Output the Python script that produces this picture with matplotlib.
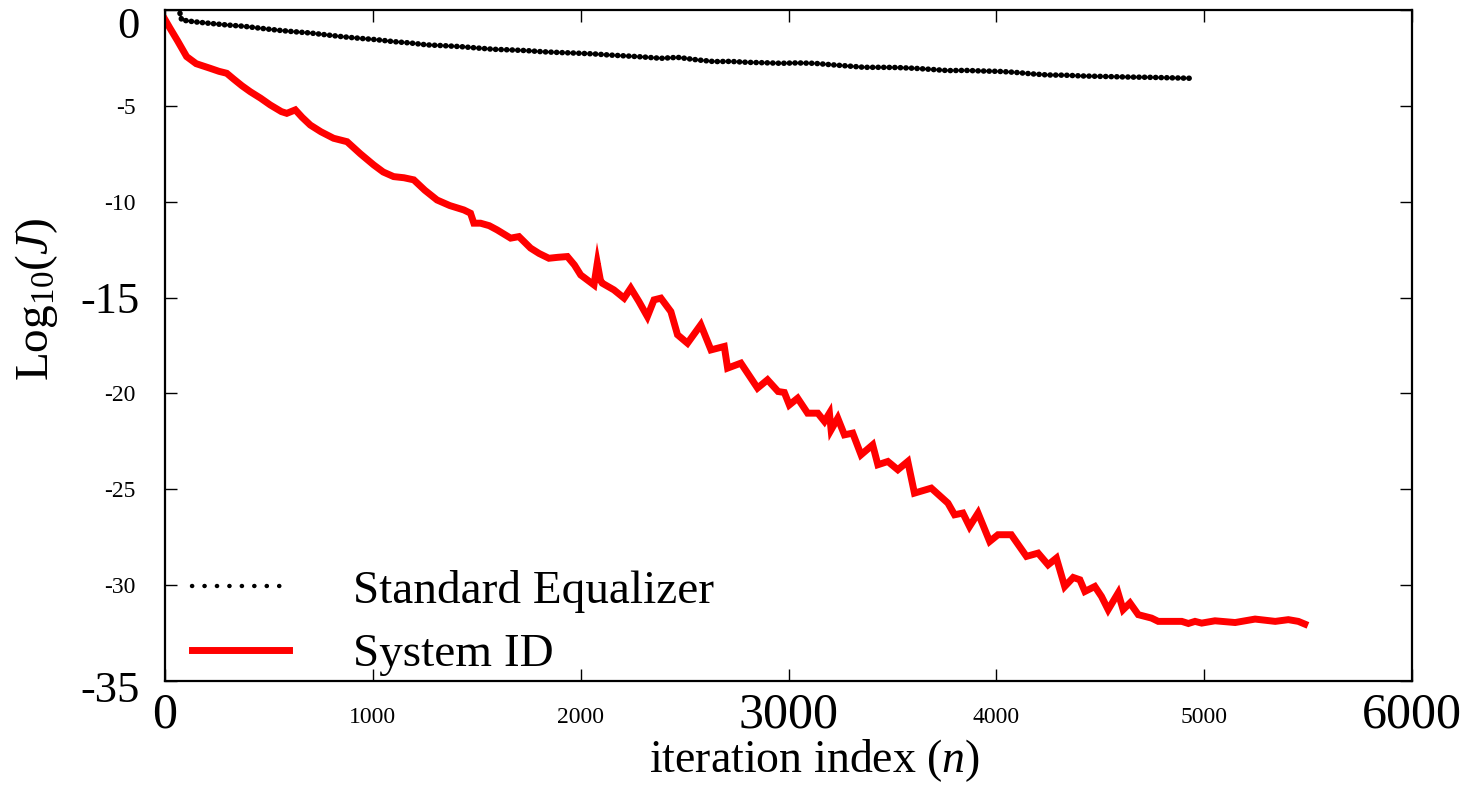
import matplotlib
matplotlib.use("Agg")
import matplotlib.pyplot as plt
import matplotlib.transforms as mtransforms
from matplotlib.lines import Line2D

plt.rcParams['font.family'] = ['Liberation Serif', 'DejaVu Serif']
plt.rcParams['mathtext.fontset'] = 'custom'
plt.rcParams['mathtext.rm'] = 'Liberation Serif'
plt.rcParams['mathtext.it'] = 'Liberation Serif:italic'

# Learning curves: log10 of the cost J versus iteration index n
equalizer_n = [72, 80, 137, 200, 297, 380, 458, 540, 618, 700, 779, 860, 940, 1020,
               1100, 1180, 1261, 1340, 1422, 1500, 1582, 1660, 1743, 1820, 1904, 1980,
               2064, 2140, 2225, 2300, 2386, 2466, 2560, 2642, 2720, 2803, 2880, 2964,
               3040, 3124, 3200, 3285, 3365, 3446, 3520, 3606, 3690, 3767, 3850, 3928,
               4010, 4088, 4170, 4249, 4330, 4410, 4490, 4570, 4650, 4731, 4810, 4930]
equalizer_logJ = [-0.17, -0.52, -0.61, -0.68, -0.78, -0.85, -0.95, -1.05, -1.13, -1.20,
                  -1.30, -1.40, -1.48, -1.55, -1.65, -1.72, -1.82, -1.86, -1.91, -1.98,
                  -2.05, -2.08, -2.12, -2.18, -2.22, -2.25, -2.29, -2.35, -2.40, -2.45,
                  -2.52, -2.47, -2.60, -2.69, -2.68, -2.73, -2.75, -2.78, -2.76, -2.78,
                  -2.85, -2.92, -2.99, -2.99, -3.00, -3.04, -3.10, -3.16, -3.15, -3.18,
                  -3.20, -3.25, -3.33, -3.39, -3.40, -3.44, -3.46, -3.48, -3.50, -3.51,
                  -3.53, -3.56]

sysid_n = [0, 24, 60, 104, 150, 217, 260, 297, 330, 370, 410, 460, 506, 560, 586, 627,
           660, 699, 750, 811, 876, 940, 1004, 1050, 1100, 1150, 1197, 1250, 1309, 1370,
           1438, 1470, 1486, 1518, 1560, 1598, 1663, 1703, 1759, 1800, 1847, 1890, 1936,
           1970, 2000, 2064, 2080, 2095, 2104, 2160, 2209, 2241, 2280, 2321, 2353, 2386,
           2434, 2466, 2514, 2578, 2627, 2691, 2707, 2771, 2851, 2899, 2950, 2980, 3004,
           3044, 3092, 3141, 3173, 3197, 3205, 3237, 3269, 3309, 3349, 3405, 3430, 3478,
           3526, 3574, 3606, 3687, 3767, 3799, 3839, 3871, 3912, 3968, 4008, 4072, 4145,
           4201, 4249, 4289, 4329, 4370, 4402, 4426, 4474, 4506, 4538, 4586, 4610, 4643,
           4683, 4747, 4779, 4892, 4924, 4956, 4988, 5052, 5149, 5245, 5342, 5405, 5453,
           5484]
sysid_logJ = [-0.50, -0.95, -1.60, -2.43, -2.80, -3.04, -3.20, -3.30, -3.60, -3.95, -4.26,
              -4.60, -4.95, -5.30, -5.39, -5.21, -5.60, -6.00, -6.35, -6.69, -6.87, -7.50,
              -8.08, -8.45, -8.69, -8.75, -8.86, -9.40, -9.91, -10.20, -10.43, -10.60,
              -11.12, -11.12, -11.25, -11.47, -11.90, -11.82, -12.42, -12.70, -12.95,
              -12.90, -12.86, -13.30, -13.82, -14.34, -13.21, -14.10, -14.25, -14.60,
              -15.03, -14.51, -15.20, -15.99, -15.12, -15.03, -15.73, -16.94, -17.38,
              -16.42, -17.73, -17.55, -18.68, -18.42, -19.72, -19.29, -19.90, -19.95,
              -20.60, -20.25, -21.03, -21.03, -21.46, -21.03, -21.90, -21.29, -22.16,
              -22.07, -23.20, -22.68, -23.72, -23.55, -23.98, -23.55, -25.20, -24.94,
              -25.72, -26.33, -26.24, -26.94, -26.24, -27.72, -27.37, -27.37, -28.50,
              -28.33, -28.94, -28.59, -30.07, -29.60, -29.72, -30.33, -30.07, -30.59,
              -31.28, -30.41, -31.28, -30.93, -31.54, -31.72, -31.89, -31.89, -32.00,
              -31.89, -31.98, -31.86, -31.95, -31.77, -31.89, -31.80, -31.89, -32.03]

series_labels = ["Standard Equalizer", "System ID"]

x_major = [0, 3000, 6000]
x_minor = [1000, 2000, 4000, 5000]
y_major = [0, -15, -35]
y_minor = [-5, -10, -20, -25, -30]

fig = plt.figure(figsize=(14.7, 7.85), dpi=100)
ax = fig.add_axes([165 / 1470, 1 - 681 / 785, 1247 / 1470, 671 / 785])

ax.plot(equalizer_n, equalizer_logJ, color='black', lw=4.0,
        linestyle=(0, (0.05, 0.95)), dash_capstyle='round', zorder=3)
ax.plot(sysid_n, sysid_logJ, color='#ff0000', lw=5.0, solid_joinstyle='miter', zorder=2)

ax.set_xlim(0, 6000)
ax.set_ylim(-35, 0)

ax.set_xticks(x_major, [str(v) for v in x_major])
ax.set_xticks(x_minor, [str(v) for v in x_minor], minor=True)
ax.set_yticks(y_major, [str(v) for v in y_major])
ax.set_yticks(y_minor, [str(v) for v in y_minor], minor=True)

ax.tick_params(axis='both', which='both', direction='in', length=8.5, width=1.0,
               top=True, right=True, color='black')
ax.tick_params(axis='x', which='major', labelsize=36, pad=8)
ax.tick_params(axis='x', which='minor', labelsize=17, pad=19)
ax.tick_params(axis='y', which='major', labelsize=32, pad=18)
ax.tick_params(axis='y', which='minor', labelsize=17, pad=21)

for s in ax.spines.values():
    s.set_linewidth(1.6)

ax.set_xlabel('iteration index ($\\mathit{n}$)', fontsize=33, va='bottom')
ax.xaxis.set_label_coords(0.521, -0.153)
ax.set_ylabel('Log$_{10}$($\\mathit{J}$)', fontsize=34, va='center')
ax.yaxis.set_label_coords(-0.103, 0.568)

handles = [Line2D([], [], color='black', lw=3.2, linestyle=(0, (0.05, 2.75)),
                  dash_capstyle='round'),
           Line2D([], [], color='#ff0000', lw=5.0)]
ax.legend(handles, series_labels, loc='upper left', bbox_to_anchor=(0.022, 0.166),
          frameon=False, fontsize=34, handlelength=2.05, handletextpad=1.36,
          labelspacing=0.43, borderpad=0, borderaxespad=0)

# nudge the end labels of the y axis downward
fig.canvas.draw()
shift_down = {'0': -12, '-35': -5}
for tick in ax.yaxis.get_major_ticks():
    txt = tick.label1.get_text()
    if txt in shift_down:
        off = mtransforms.ScaledTranslation(0, shift_down[txt] / 100, fig.dpi_scale_trans)
        tick.label1.set_transform(tick.label1.get_transform() + off)

fig.savefig('out.png', dpi=100, facecolor='white')
